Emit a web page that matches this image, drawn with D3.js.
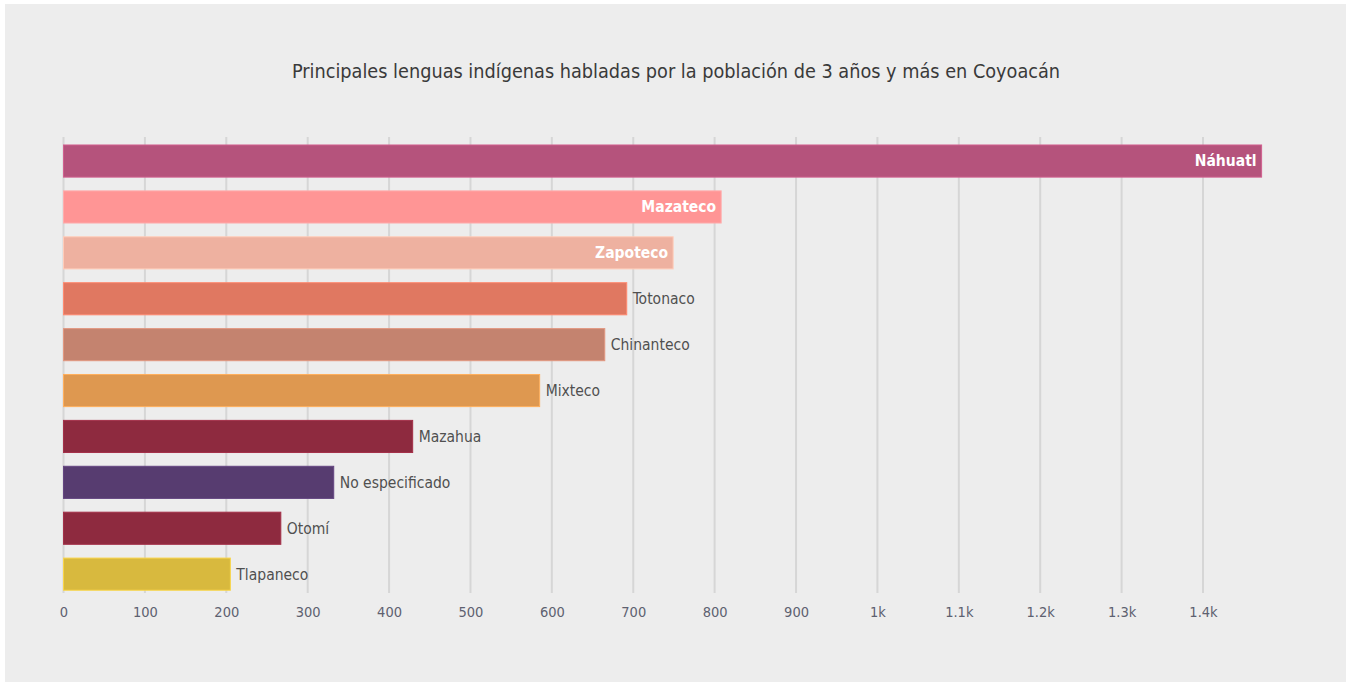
<!DOCTYPE html>
<html><head><meta charset="utf-8">
<script src="https://cdn.jsdelivr.net/npm/d3@7"></script>
<style>
html,body{margin:0;padding:0;background:#fff;}
svg{display:block;}
</style></head>
<body>
<svg id="chart" width="1346" height="683"></svg>
<script>
const titleText = "Principales lenguas indígenas habladas por la población de 3 años y más en Coyoacán";
const categories = ["Náhuatl","Mazateco","Zapoteco","Totonaco","Chinanteco","Mixteco","Mazahua","No especificado","Otomí","Tlapaneco"];
const values = [1472, 808, 749, 692, 665, 585, 429, 332, 267, 205];
const colors = ["#b5537c","#ff9595","#eeb1a0","#e07861","#c4836f","#de9850","#8e2a3f","#573c70","#8e2a3f","#d8b93e"];
const insideLabel = [true,true,true,false,false,false,false,false,false,false];
const tickValues = [0,100,200,300,400,500,600,700,800,900,1000,1100,1200,1300,1400];
const tickLabels = ["0","100","200","300","400","500","600","700","800","900","1k","1.1k","1.2k","1.3k","1.4k"];

const font = "'DejaVu Sans Condensed','DejaVu Sans',sans-serif";
const svg = d3.select("#chart");
svg.append("rect").attr("x",5).attr("y",4).attr("width",1341).attr("height",678).attr("fill","#ededed");

svg.append("text").attr("x",676).attr("y",78).attr("text-anchor","middle")
  .attr("font-family",font).attr("font-size",19.7).attr("fill","#3a3a3a").text(titleText);

const x = d3.scaleLinear().domain([0,1400]).range([63.5,1203]);
const y = d3.scaleBand().domain(categories).range([138.1,597.1]).paddingInner(0.3).paddingOuter(0.15);

const grid = svg.append("g");
grid.selectAll("line").data(tickValues).join("line")
  .attr("x1",d=>x(d)).attr("x2",d=>x(d)).attr("y1",137).attr("y2",593)
  .attr("stroke","#d6d6d6").attr("stroke-width",2);

const axis = svg.append("g").attr("transform","translate(0,593)")
  .call(d3.axisBottom(x).tickValues(tickValues).tickSize(0).tickPadding(14).tickFormat((d,i)=>tickLabels[i]));
axis.select(".domain").remove();
axis.selectAll("text").attr("font-family",font).attr("font-size",14.5).attr("fill","#5d6170");

const data = categories.map((c,i)=>({c,v:values[i],col:colors[i],inside:insideLabel[i]}));
svg.append("g").selectAll("rect").data(data).join("rect")
  .attr("x",x(0)).attr("y",d=>y(d.c)).attr("width",d=>x(d.v)-x(0)).attr("height",y.bandwidth())
  .attr("fill",d=>d.col).attr("stroke",d=>d3.color(d.col).brighter(0.4)).attr("stroke-width",1);

svg.append("g").selectAll("text").data(data).join("text")
  .attr("x",d=>d.inside ? x(d.v)-5 : x(d.v)+6)
  .attr("y",d=>y(d.c)+y.bandwidth()/2)
  .attr("dy","0.35em")
  .attr("text-anchor",d=>d.inside?"end":"start")
  .attr("font-family",font).attr("font-size",15.5)
  .attr("font-weight",d=>d.inside?"bold":"normal")
  .attr("fill",d=>d.inside?"#ffffff":"#505050")
  .text(d=>d.c);
</script>
</body></html>
